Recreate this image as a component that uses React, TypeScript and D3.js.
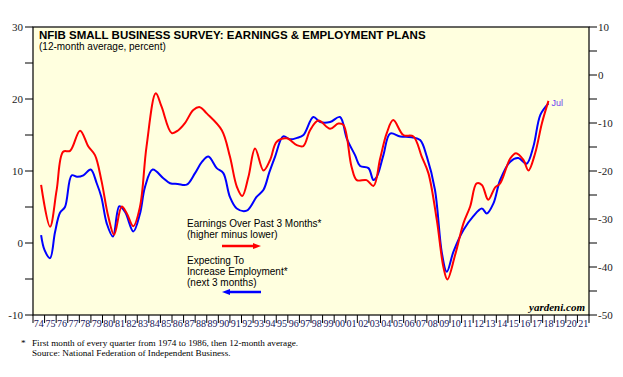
import React from "react";
import * as d3 from "d3";

const yearTicks = d3.range(1974, 2023);
const leftTicks = [30, 20, 10, 0, -10];
const leftMinor = [25, 15, 5, -5];
const rightTicks = [10, 0, -10, -20, -30, -40, -50];
const rightMinor = [5, -5, -15, -25, -35, -45];

// Expecting to increase employment (left axis)
const empDates = [1974.7, 1975.0, 1975.47, 1975.9, 1976.33, 1976.76, 1977.34, 1977.8, 1978.35, 1978.98, 1979.5, 1979.9, 1980.37, 1980.9, 1981.45, 1981.95, 1982.66, 1983.24, 1983.67, 1984.33, 1985.25, 1985.83, 1986.5, 1987.27, 1987.99, 1988.6, 1989.14, 1989.86, 1990.43, 1991.0, 1991.59, 1992.45, 1993.3, 1993.9, 1994.4, 1994.9, 1995.6, 1996.2, 1996.8, 1997.35, 1998.2, 1998.8, 1999.65, 2000.5, 2001.09, 2001.8, 2002.24, 2002.96, 2003.39, 2003.68, 2004.25, 2004.83, 2005.7, 2006.7, 2007.42, 2008.0, 2008.7, 2009.3, 2009.72, 2010.3, 2011.16, 2012.0, 2012.75, 2013.18, 2013.75, 2014.33, 2015.2, 2015.9, 2016.6, 2017.2, 2017.8, 2018.5];
const empValues = [1.1, -1.0, -2.1, 1.5, 4.2, 5.0, 9.4, 9.2, 9.4, 10.2, 8.3, 6.4, 2.7, 0.9, 5.1, 4.3, 1.6, 4.1, 7.8, 10.2, 9.0, 8.3, 8.2, 8.1, 9.7, 11.3, 12.0, 10.4, 9.7, 6.4, 4.8, 4.5, 6.4, 7.4, 9.8, 12.0, 14.8, 14.4, 14.6, 15.0, 17.5, 16.8, 16.8, 17.5, 14.5, 12.2, 10.7, 10.4, 8.75, 9.2, 12.2, 15.2, 14.8, 14.7, 14.3, 12.0, 7.4, -1.4, -4.0, -1.2, 1.8, 3.7, 4.8, 4.1, 5.5, 8.75, 11.3, 11.8, 11.0, 13.4, 17.8, 19.4];

// Earnings over past 3 months (right axis)
const earnDates = [1974.7, 1975.47, 1976.04, 1976.6, 1977.2, 1978.06, 1978.78, 1979.35, 1979.9, 1980.5, 1981.0, 1981.66, 1982.09, 1982.66, 1983.24, 1983.8, 1984.6, 1985.1, 1985.98, 1986.55, 1987.1, 1987.84, 1988.4, 1989.0, 1990.3, 1991.0, 1991.6, 1992.07, 1992.6, 1993.17, 1993.9, 1994.47, 1995.04, 1995.9, 1996.77, 1997.34, 1997.92, 1998.64, 1999.65, 2000.36, 2000.8, 2001.5, 2001.95, 2002.8, 2003.4, 2003.97, 2004.54, 2005.1, 2005.97, 2006.84, 2007.56, 2008.14, 2008.86, 2009.43, 2009.77, 2010.44, 2011.16, 2011.74, 2012.3, 2012.75, 2013.3, 2013.9, 2014.33, 2015.2, 2015.7, 2016.34, 2016.77, 2017.35, 2017.93, 2018.5];
const earnValues = [-22.9, -31.6, -24.0, -16.0, -15.8, -11.6, -14.9, -16.7, -21.9, -29.5, -33.3, -27.4, -28.8, -31.5, -27.4, -14.9, -3.8, -6.6, -12.1, -11.5, -10.1, -7.3, -6.7, -8.0, -11.5, -17.0, -23.3, -25.2, -21.2, -15.3, -19.9, -17.7, -13.9, -13.2, -14.6, -14.8, -11.5, -9.5, -11.2, -10.1, -10.4, -19.1, -21.9, -21.9, -23.1, -17.4, -12.1, -9.4, -12.5, -12.8, -17.0, -20.5, -30.2, -40.0, -42.6, -37.5, -30.9, -27.4, -22.6, -22.9, -26.0, -23.4, -22.6, -17.4, -16.3, -17.7, -19.9, -16.3, -10.1, -5.4];

const W = 623;
const H = 377;
const L = 33, R = 589, T = 27, B = 315;
const serif = "'Liberation Serif', 'Times New Roman', serif";
const sans = "'Liberation Sans', Arial, sans-serif";

export default function App() {
  const x = d3.scaleLinear().domain([1974, 2022]).range([L, R]);
  const yL = d3.scaleLinear().domain([-10, 30]).range([B, T]);
  const yR = d3.scaleLinear().domain([-50, 10]).range([B, T]);

  const empLine = d3.line<number>()
    .x((_, i) => x(empDates[i]))
    .y((d) => yL(d))
    .curve(d3.curveCatmullRom.alpha(0.5));
  const earnLine = d3.line<number>()
    .x((_, i) => x(earnDates[i]))
    .y((d) => yR(d))
    .curve(d3.curveCatmullRom.alpha(0.5));

  const lastX = x(empDates[empDates.length - 1]);
  const lastY = yL(empValues[empValues.length - 1]);

  return (
    <svg width={W} height={H} style={{ position: "absolute", left: 0, top: 0, background: "#fff" }}>
      <rect x={L} y={T} width={R - L} height={B - T} fill="#ffffdf" />
      {/* lines */}
      <path d={empLine(empValues) || ""} fill="none" stroke="#0000ff" strokeWidth={2} />
      <path d={earnLine(earnValues) || ""} fill="none" stroke="#ff0000" strokeWidth={2} />
      {/* frame */}
      <rect x={L} y={T} width={R - L} height={B - T} fill="none" stroke="#000" strokeWidth={1.2} />

      {/* left axis */}
      {leftTicks.map((t) => (
        <g key={"l" + t}>
          <line x1={L - 8} x2={L} y1={yL(t)} y2={yL(t)} stroke="#000" />
          <text x={L - 10} y={yL(t) + 4} textAnchor="end" fontFamily={serif} fontSize={11} fill="#1a1a1a">{t}</text>
        </g>
      ))}
      {leftMinor.map((t) => (
        <line key={"lm" + t} x1={L - 8} x2={L} y1={yL(t)} y2={yL(t)} stroke="#000" />
      ))}

      {/* right axis */}
      {rightTicks.map((t) => (
        <g key={"r" + t}>
          <line x1={R} x2={R + 8} y1={yR(t)} y2={yR(t)} stroke="#000" />
          <text x={R + 9} y={yR(t) + 4} textAnchor="start" fontFamily={serif} fontSize={11} fill="#1a1a1a">{t}</text>
        </g>
      ))}
      {rightMinor.map((t) => (
        <line key={"rm" + t} x1={R} x2={R + 8} y1={yR(t)} y2={yR(t)} stroke="#000" />
      ))}

      {/* x axis */}
      {yearTicks.map((yr) => (
        <line key={"x" + yr} x1={x(yr)} x2={x(yr)} y1={B} y2={B + 8} stroke="#000" />
      ))}
      {yearTicks.slice(0, -1).map((yr) => (
        <text key={"xl" + yr} x={x(yr + 0.5)} y={B + 12} textAnchor="middle" fontFamily={serif} fontSize={10} fill="#14145a">
          {String(yr % 100).padStart(2, "0")}
        </text>
      ))}

      {/* titles */}
      <text x={39} y={39} fontFamily={sans} fontWeight="bold" fontSize={11.5} fill="#000">
        NFIB SMALL BUSINESS SURVEY: EARNINGS &amp; EMPLOYMENT PLANS
      </text>
      <text x={39} y={50} fontFamily={sans} fontSize={10} fill="#000">(12-month average, percent)</text>

      {/* legend */}
      <g fontFamily={sans} fontSize={10} fill="#000">
        <text x={187} y={227}>Earnings Over Past 3 Months*</text>
        <text x={187} y={238}>(higher minus lower)</text>
        <text x={187} y={264}>Expecting To</text>
        <text x={187} y={275}>Increase Employment*</text>
        <text x={187} y={286}>(next 3 months)</text>
      </g>
      <line x1={222} x2={254} y1={246} y2={246} stroke="#ff0000" strokeWidth={2.5} />
      <polygon points="253,243 261,246 253,249" fill="#ff0000" />
      <line x1={229} x2={261} y1={292} y2={292} stroke="#0000ff" strokeWidth={2.5} />
      <polygon points="230,289 222,292 230,295" fill="#0000ff" />

      {/* Jul label */}
      <text x={lastX + 3} y={lastY + 3} fontFamily={sans} fontSize={9} fill="#6a3df0">Jul</text>

      {/* yardeni */}
      <text x={585} y={311} textAnchor="end" fontFamily={serif} fontStyle="italic" fontWeight="bold" fontSize={11} fill="#000">yardeni.com</text>

      {/* footnotes */}
      <g fontFamily={serif} fontSize={9.2} fill="#000">
        <text x={21} y={346}>*</text>
        <text x={32} y={346}>First month of every quarter from 1974 to 1986, then 12-month average.</text>
        <text x={32} y={356}>Source: National Federation of Independent Business.</text>
      </g>
    </svg>
  );
}
